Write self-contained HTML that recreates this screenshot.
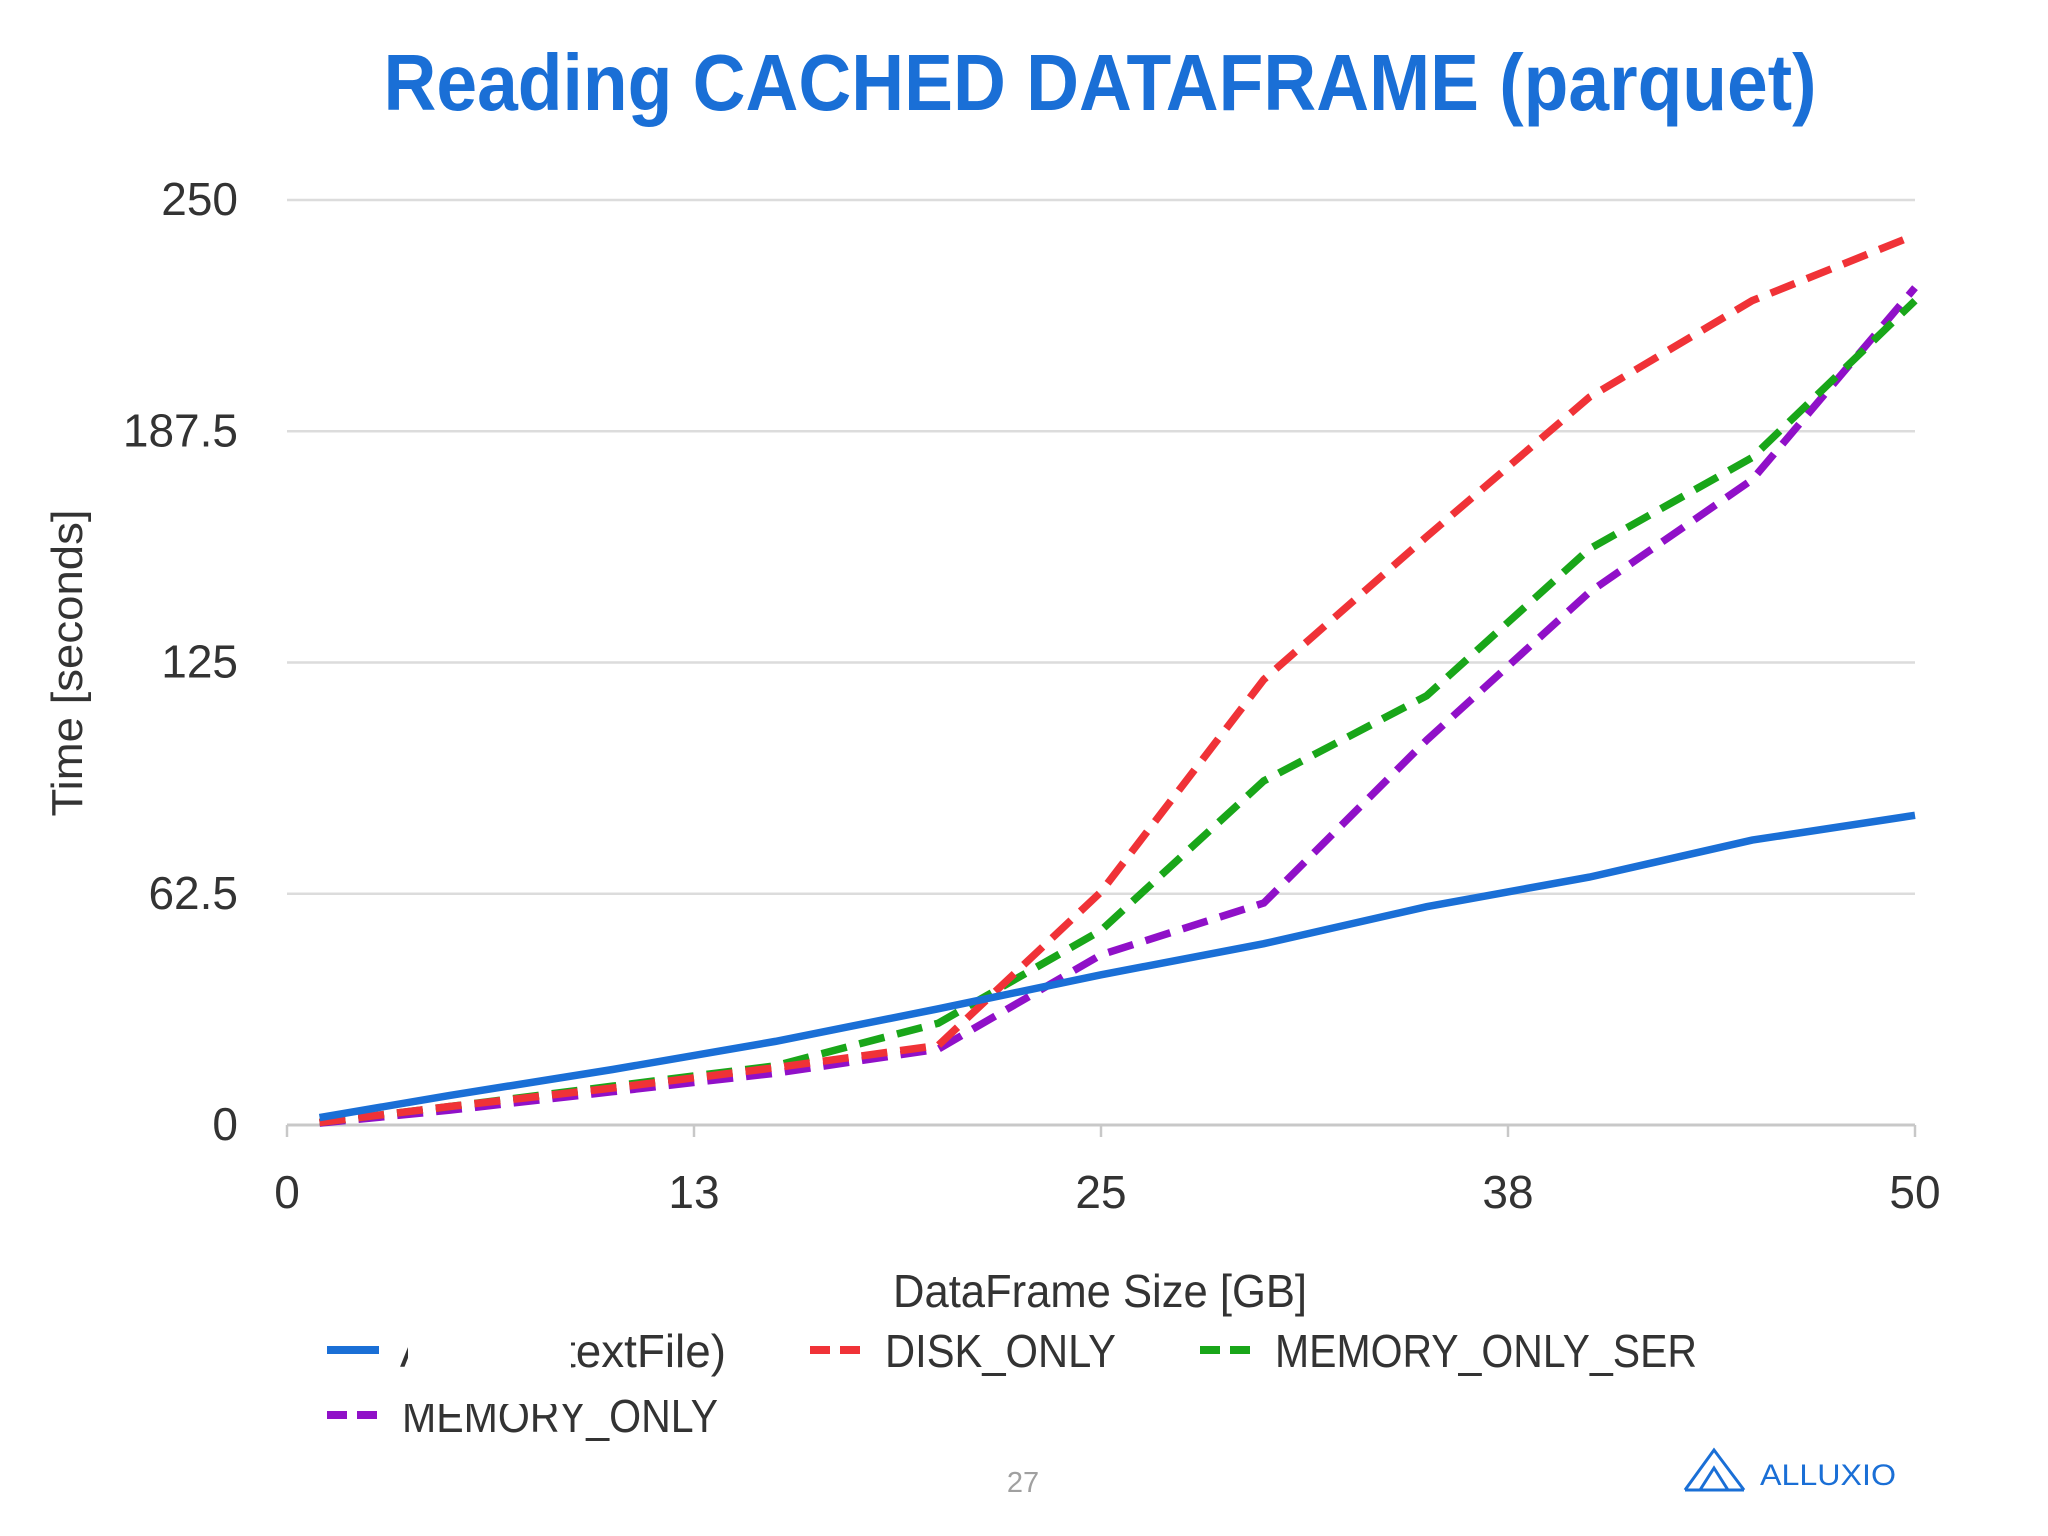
<!DOCTYPE html>
<html><head><meta charset="utf-8"><style>
html,body{margin:0;padding:0;background:#fff;}
svg{display:block;}
text{font-family:"Liberation Sans Narrow","Liberation Sans",sans-serif;}
</style></head><body>
<svg id="chart" width="2048" height="1536" viewBox="0 0 2048 1536" xmlns="http://www.w3.org/2000/svg">
<text x="1100" y="110" text-anchor="middle" font-size="80" font-weight="bold" fill="#1a6fd6" textLength="1433" lengthAdjust="spacingAndGlyphs" style="font-family:'Liberation Sans',sans-serif">Reading CACHED DATAFRAME (parquet)</text>
<g id="grid"></g>
<g id="yticks"></g>
<g id="xticks"></g>
<g id="series"></g>
<text transform="translate(82,663) rotate(-90)" text-anchor="middle" font-size="44" fill="#333" textLength="307" lengthAdjust="spacingAndGlyphs" style="font-family:'Liberation Sans',sans-serif">Time [seconds]</text>
<text x="1100" y="1307" text-anchor="middle" font-size="46" fill="#333" textLength="414" lengthAdjust="spacingAndGlyphs">DataFrame Size [GB]</text>
<g>
 <g>
  <line x1="327" y1="1350" x2="379" y2="1350" stroke="#1a6fd6" stroke-width="8"/>
  <text x="400" y="1367" font-size="46" fill="#333" textLength="326" lengthAdjust="spacingAndGlyphs">Alluxio (textFile)</text>
  <rect x="408" y="1320" width="163" height="60" fill="#fff"/>
 </g>
 <g>
  <line x1="810" y1="1350" x2="862" y2="1350" stroke="#f03237" stroke-width="8" stroke-dasharray="20,10"/>
  <text x="885" y="1367" font-size="46" fill="#333" textLength="231" lengthAdjust="spacingAndGlyphs">DISK_ONLY</text>
 </g>
 <g>
  <line x1="1200" y1="1350" x2="1252" y2="1350" stroke="#19a619" stroke-width="8" stroke-dasharray="20,10"/>
  <text x="1275" y="1367" font-size="46" fill="#333" textLength="422" lengthAdjust="spacingAndGlyphs">MEMORY_ONLY_SER</text>
 </g>
 <g>
  <line x1="327" y1="1415" x2="379" y2="1415" stroke="#9010c8" stroke-width="8" stroke-dasharray="20,10"/>
  <text x="402" y="1432" font-size="46" fill="#333" textLength="316" lengthAdjust="spacingAndGlyphs">MEMORY_ONLY</text>
  <rect x="396" y="1380" width="200" height="24" fill="#fff"/>
 </g>
</g>
<text x="1023" y="1492" text-anchor="middle" font-size="29" fill="#a0a0a0">27</text>
<g>
 <path d="M1685 1490 L1714 1450 L1744 1490 M1700 1490 L1714 1468 L1728 1490 M1685 1490 L1744 1490" fill="none" stroke="#1a6fd6" stroke-width="3"/>
 <text x="1760" y="1485" font-size="30" fill="#1a6fd6" textLength="136" lengthAdjust="spacingAndGlyphs" style="font-family:'Liberation Sans',sans-serif">ALLUXIO</text>
</g>
</svg>
<script>
const xValues=[1,5,10,15,20,25,30,35,40,45,50];
const alluxioValues=[2,8,15,22.6,31.4,40.6,49,59,67,77,83.7];
const diskOnlyValues=[0.7,5,10,15.5,21.5,63,120.4,159,196.7,222.8,240.5];
const memoryOnlySerValues=[0.7,5,10.5,16,27.5,52.6,93,116,155.7,180.4,222.8];
const memoryOnlyValues=[0.5,4,9,14,20.5,46,60,104,144,174.4,226.3];
const yTickValues=[0,62.5,125,187.5,250];
const yTickLabels=["0","62.5","125","187.5","250"];
const xTickValues=[0,12.5,25,37.5,50];
const xTickLabels=["0","13","25","38","50"];
const NS="http://www.w3.org/2000/svg";
const X0=287,X1=1915,Y0=1125,Y1=200;
function sx(v){return X0+(v-0)/(50-0)*(X1-X0);}
function sy(v){return Y0-(v-0)/(250-0)*(Y0-Y1);}
const grid=document.getElementById('grid'),yt=document.getElementById('yticks'),xt=document.getElementById('xticks'),ser=document.getElementById('series');
yTickValues.forEach((v,i)=>{
 const l=document.createElementNS(NS,'line');
 l.setAttribute('x1',X0);l.setAttribute('x2',X1);l.setAttribute('y1',sy(v));l.setAttribute('y2',sy(v));
 l.setAttribute('stroke',v===0?'#c8c8c8':'#dcdcdc');l.setAttribute('stroke-width',v===0?3:2.5);
 
 
 grid.appendChild(l);
 const t=document.createElementNS(NS,'text');
 t.setAttribute('x',238);t.setAttribute('y',sy(v)+15);t.setAttribute('text-anchor','end');t.setAttribute('font-size','46');t.setAttribute('fill','#333');
 t.textContent=yTickLabels[i];
 
 
 yt.appendChild(t);
});
xTickValues.forEach((v,i)=>{
 const l=document.createElementNS(NS,'line');
 l.setAttribute('x1',sx(v));l.setAttribute('x2',sx(v));l.setAttribute('y1',Y0);l.setAttribute('y2',Y0+12);
 l.setAttribute('stroke','#c8c8c8');l.setAttribute('stroke-width',2.5);
 
 
 xt.appendChild(l);
 const t=document.createElementNS(NS,'text');
 t.setAttribute('x',sx(v));t.setAttribute('y',1208);t.setAttribute('text-anchor','middle');t.setAttribute('font-size','46');t.setAttribute('fill','#333');
 t.textContent=xTickLabels[i];
 
 
 xt.appendChild(t);
});
function drawLine(vals,color,dash,name){
 const p=document.createElementNS(NS,'polyline');
 p.setAttribute('points',vals.map((v,i)=>sx(xValues[i])+','+sy(v)).join(' '));
 p.setAttribute('fill','none');p.setAttribute('stroke',color);p.setAttribute('stroke-width','7.5');
 if(dash)p.setAttribute('stroke-dasharray','26,13');
 
 
 ser.appendChild(p);
}
drawLine(memoryOnlyValues,'#9010c8',true,'memory-only-line');
drawLine(memoryOnlySerValues,'#19a619',true,'memory-only-ser-line');
drawLine(diskOnlyValues,'#f03237',true,'disk-only-line');
drawLine(alluxioValues,'#1a6fd6',false,'alluxio-line');
</script>
</body></html>
